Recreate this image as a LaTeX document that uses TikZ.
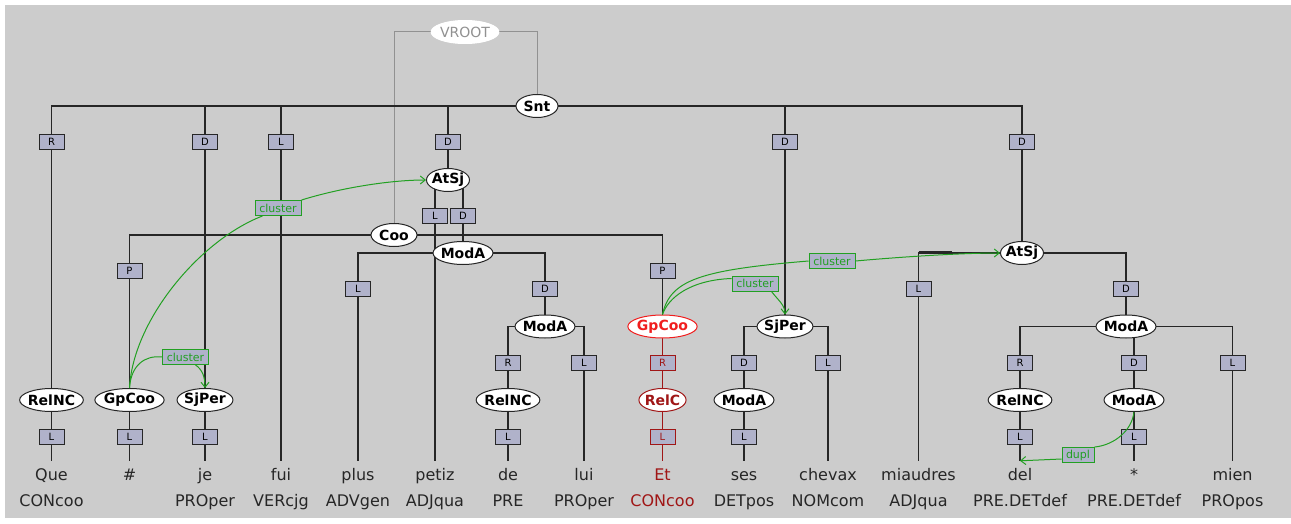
\documentclass[tikz,border=0pt]{standalone}
\usepackage{fontspec}
\setmainfont{DejaVu Sans}
\usetikzlibrary{shapes.geometric,arrows.meta}
\pgfdeclarelayer{back}
\pgfdeclarelayer{edges}
\pgfsetlayers{back,edges,main}

\definecolor{panel}{RGB}{204,204,204}
\definecolor{ink}{RGB}{38,38,38}
\definecolor{fnfill}{RGB}{176,178,202}
\definecolor{linkgreen}{RGB}{34,160,34}
\definecolor{hotred}{RGB}{240,30,30}
\definecolor{darkred}{RGB}{160,22,22}
\definecolor{rootgray}{RGB}{145,145,145}

\tikzset{
  catnode/.style={ellipse, draw=ink, fill=white, line width=1pt,
    inner xsep=-1pt, inner ysep=-2pt, minimum height=23pt, minimum width=42pt,
    font=\fontsize{14}{14}\bfseries\selectfont, text=black},
  rootcat/.style={draw=white, text=rootgray, font=\fontsize{14}{14}\selectfont},
  hotcat/.style={draw=hotred, text=hotred},
  redcat/.style={draw=darkred, text=darkred},
  fnbox/.style={rectangle, draw=ink, fill=fnfill, line width=0.9pt,
    minimum width=25pt, minimum height=15pt, inner sep=0pt,
    font=\fontsize{10}{10}\selectfont},
  redfn/.style={draw=darkred, text=darkred},
  word/.style={anchor=base, inner xsep=1pt, inner ysep=7pt, text height=12pt,
    text depth=3.5pt, font=\fontsize{16}{16}\selectfont, text=black!85},
  postag/.style={anchor=base, inner sep=1pt, font=\fontsize{16}{16}\selectfont, text=black!85},
  branch/.style={draw=ink, line width=1.2pt},
  redbranch/.style={draw=darkred, line width=1.2pt},
  rootline/.style={draw=rootgray, line width=1pt},
  link/.style={draw=linkgreen, line width=1pt},
  linkarrow/.style={link, -{Straight Barb[length=5pt,width=8pt]}},
  linklabel/.style={rectangle, draw=linkgreen, fill=fnfill, line width=0.9pt,
    text=linkgreen, minimum width=46pt, minimum height=15pt, inner sep=1pt,
    font=\fontsize{11}{11}\selectfont},
}

\begin{document}
\begin{tikzpicture}[x=1pt,y=-1pt]
\useasboundingbox (0,0) rectangle (1291,524);
\begin{pgfonlayer}{back}
  \fill[white] (0,0) rectangle (1291,524);
  \fill[panel] (5,5) rectangle (1291,518);
\end{pgfonlayer}

% root and sentence node
\node[catnode, rootcat] (vroot) at (465,32) {VROOT};
\node[catnode] (snt) at (537,106) {Snt};

% first-level functions
\node[fnbox] (t1) at (51.5,141.5) {R};
\node[fnbox] (t2) at (205,141.5) {D};
\node[fnbox] (t3) at (281,141.5) {L};
\node[fnbox] (t4) at (448,141.5) {D};
\node[fnbox] (t5) at (785,141.5) {D};
\node[fnbox] (t6) at (1022,141.5) {D};

\node[catnode] (relncA) at (51.5,400) {RelNC};
\node[fnbox] (tA) at (51.5,436.5) {L};
\node[catnode] (sjperA) at (205,400) {SjPer};
\node[fnbox] (tB) at (205,436.5) {L};

% left AtSj branch
\node[catnode] (atsjA) at (448,180) {AtSj};
\node[fnbox] (tC) at (435,215.5) {L};
\node[fnbox] (tD) at (463,215.5) {D};
\node[catnode] (modaA) at (463,253) {ModA};
\node[fnbox] (tE) at (358,289) {L};
\node[fnbox] (tF) at (545,289) {D};
\node[catnode] (modaB) at (545,326.5) {ModA};
\node[fnbox] (tG) at (508,362.5) {R};
\node[fnbox] (tH) at (584,362.5) {L};
\node[catnode] (relncB) at (508,400) {RelNC};
\node[fnbox] (tI) at (508,436.5) {L};

% coordination
\node[catnode, minimum width=46pt] (coo) at (394,235) {Coo};
\node[fnbox] (tJ) at (129.5,270.5) {P};
\node[catnode] (gpcooA) at (129.5,400) {GpCoo};
\node[fnbox] (tK) at (129.5,436.5) {L};
\node[fnbox] (tL) at (662.5,270.5) {P};
\node[catnode, hotcat] (gpcooB) at (662.5,326.5) {GpCoo};
\node[fnbox, redfn] (tM) at (662.5,362.5) {R};
\node[catnode, redcat] (relc) at (662.5,400) {RelC};
\node[fnbox, redfn] (tN) at (662.5,436.5) {L};

% SjPer branch
\node[catnode] (sjperB) at (785,326.5) {SjPer};
\node[fnbox] (tO) at (744,362.5) {D};
\node[fnbox] (tP) at (828,362.5) {L};
\node[catnode] (modaC) at (744,400) {ModA};
\node[fnbox] (tQ) at (744,436.5) {L};

% right AtSj branch
\node[catnode] (atsjB) at (1022,253) {AtSj};
\node[fnbox] (tR) at (918.5,289) {L};
\node[fnbox] (tS) at (1126,289) {D};
\node[catnode] (modaD) at (1126,326.5) {ModA};
\node[fnbox] (tT) at (1020,362.5) {R};
\node[fnbox] (tU) at (1134,362.5) {D};
\node[fnbox] (tV) at (1232.5,362.5) {L};
\node[catnode] (relncC) at (1020,400) {RelNC};
\node[catnode] (modaE) at (1134,400) {ModA};
\node[fnbox] (tW) at (1020,436.5) {L};
\node[fnbox] (tX) at (1134,436.5) {L};

% tokens and part-of-speech tags
\node[word] (w1) at (51.5,480) {Que};      \node[postag] (p1) at (51.5,506) {CONcoo};
\node[word] (w2) at (129.5,480) {\#};
\node[word] (w3) at (205,480) {je};        \node[postag] (p3) at (205,506) {PROper};
\node[word] (w4) at (281,480) {fui};       \node[postag] (p4) at (281,506) {VERcjg};
\node[word] (w5) at (358,480) {plus};      \node[postag] (p5) at (358,506) {ADVgen};
\node[word] (w6) at (435,480) {petiz};     \node[postag] (p6) at (435,506) {ADJqua};
\node[word] (w7) at (508,480) {de};        \node[postag] (p7) at (508,506) {PRE};
\node[word] (w8) at (584,480) {lui};       \node[postag] (p8) at (584,506) {PROper};
\node[word, text=darkred] (w9) at (662.5,480) {Et};
\node[postag, text=darkred] (p9) at (662.5,506) {CONcoo};
\node[word] (w10) at (744,480) {ses};      \node[postag] (p10) at (744,506) {DETpos};
\node[word] (w11) at (828,480) {chevax};   \node[postag] (p11) at (828,506) {NOMcom};
\node[word] (w12) at (918.5,480) {miaudres}; \node[postag] (p12) at (918.5,506) {ADJqua};
\node[word] (w13) at (1020,480) {del};     \node[postag] (p13) at (1020,506) {PRE.DETdef};
\node[word] (w14) at (1134,480) {*};       \node[postag] (p14) at (1134,506) {PRE.DETdef};
\node[word] (w15) at (1232.5,480) {mien};  \node[postag] (p15) at (1232.5,506) {PROpos};

% tree edges, drawn beneath the nodes
\begin{pgfonlayer}{edges}
  \draw[rootline] (vroot.center) -| (coo.center);
  \draw[rootline] (vroot.center) -| (snt.center);
  \foreach \t in {t1,t2,t3,t4,t5,t6}
    \draw[branch] (snt.center) -| (\t.center);
  \draw[branch] (t1.center) -- (relncA.center) -- (tA.center) -- (w1.north);
  \draw[branch] (t2.center) -- (sjperA.center) -- (tB.center) -- (w3.north);
  \draw[branch] (t3.center) -- (w4.north);
  \draw[branch] (t4.center) -- (atsjA.center);
  \draw[branch] (atsjA.center) -| (tC.center) -- (w6.north);
  \draw[branch] (atsjA.center) -| (tD.center) -- (modaA.center);
  \draw[branch] (modaA.center) -| (tE.center) -- (w5.north);
  \draw[branch] (modaA.center) -| (tF.center) -- (modaB.center);
  \draw[branch] (modaB.center) -| (tG.center) -- (relncB.center) -- (tI.center) -- (w7.north);
  \draw[branch] (modaB.center) -| (tH.center) -- (w8.north);
  \draw[branch] (coo.center) -| (tJ.center) -- (gpcooA.center) -- (tK.center) -- (w2.north);
  \draw[branch] (coo.center) -| (tL.center) -- (gpcooB.center);
  \draw[redbranch] (gpcooB.center) -- (tM.center) -- (relc.center) -- (tN.center) -- (w9.north);
  \draw[branch] (t5.center) -- (sjperB.center);
  \draw[branch] (sjperB.center) -| (tO.center) -- (modaC.center) -- (tQ.center) -- (w10.north);
  \draw[branch] (sjperB.center) -| (tP.center) -- (w11.north);
  \draw[branch] (t6.center) -- (atsjB.center);
  \draw[branch] (atsjB.center) -| (tR.center) -- (w12.north);
  \draw[branch] (atsjB.center) -| (tS.center) -- (modaD.center);
  \draw[branch] (modaD.center) -| (tT.center) -- (relncC.center) -- (tW.center) -- (w13.north);
  \draw[branch] (modaD.center) -| (tU.center) -- (modaE.center) -- (tX.center) -- (w14.north);
  \draw[branch] (modaD.center) -| (tV.center) -- (w15.north);
  \draw[branch, line width=2.6pt] ([yshift=0.6pt]atsjB.center -| tR.center) -- ++(33,0);
\end{pgfonlayer}

% secondary links
\node[linklabel] (c1) at (278,208) {cluster};
\node[linklabel] (c2) at (185.5,357) {cluster};
\node[linklabel] (c3) at (755,283.5) {cluster};
\node[linklabel] (c4) at (832,261) {cluster};
\node[linklabel, minimum width=32pt] (d1) at (1078,455) {dupl};

\draw[link] (gpcooA.north) .. controls (133,320) and (200,240) .. ([xshift=8pt]c1.south west);
\draw[linkarrow] (c1.north east) .. controls (340,188) and (390,180) .. (atsjA.west);
\draw[link] (gpcooA.north) .. controls (131,365) and (145,355) .. (c2.west);
\draw[linkarrow] ([xshift=10pt]c2.south) .. controls (203,370) and (205,378) .. (sjperA.north);
\draw[link] (gpcooB.north) .. controls (668,298) and (690,280) .. ([yshift=5pt]c3.west);
\draw[linkarrow] ([xshift=-7pt]c3.south east) .. controls (778,300) and (785,305) .. (sjperB.north);
\draw[link] (gpcooB.north) .. controls (670,280) and (700,270) .. (c4.west);
\draw[linkarrow] (c4.east) .. controls (900,257) and (960,253) .. (atsjB.west);
\draw[link] (modaE.south) .. controls (1132,430) and (1115,445) .. (d1.north east);
\draw[linkarrow] ([yshift=-4pt]d1.west) -- (w13.north);
\end{tikzpicture}
\end{document}
